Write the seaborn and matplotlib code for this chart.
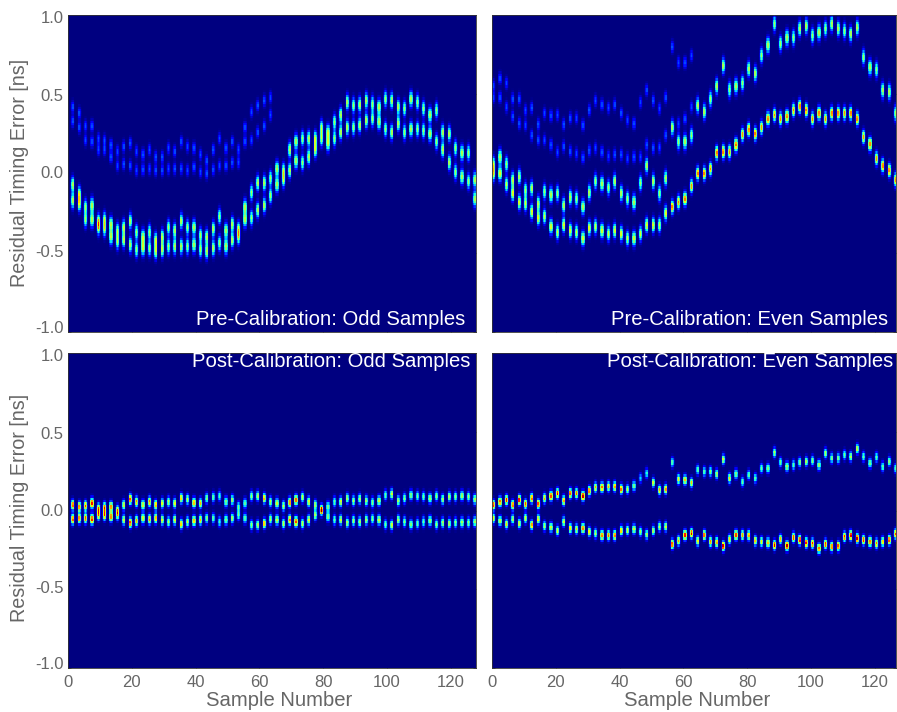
import numpy as np
import pandas as pd
import matplotlib
matplotlib.use("Agg")
import matplotlib.pyplot as plt
from matplotlib.transforms import ScaledTranslation
import seaborn as sns

# Peak positions [ns] per captured sample column
pre_odd_up = [-.07,-.13,-.21,-.20,-.30,-.29,-.32,-.36,-.34,-.30,-.37,-.40,-.37,-.42,-.40,-.34,-.36,-.30,-.34,-.34,-.39,-.40,-.35,-.27,-.36,-.32,-.35,-.21,-.12,-.06,-.06,-.03,
              .03,.02,.15,.20,.22,.22,.22,.29,.26,.325,.37,.45,.43,.435,.46,.44,.42,.47,.46,.42,.41,.47,.45,.41,.37,.40,.26,.25,.16,.13,.13,-.04]
pre_odd_low = [-.17,-.19,-.29,-.29,-.34,-.35,-.40,-.43,-.42,-.45,-.48,-.47,-.47,-.49,-.48,-.46,-.46,-.46,-.46,-.45,-.48,-.49,-.47,-.44,-.46,-.42,-.40,-.29,-.28,-.23,-.20,-.14,
               -.07,-.04,.02,.08,.07,.105,.15,.22,.19,.22,.26,.29,.29,.305,.335,.345,.325,.28,.26,.315,.26,.28,.28,.27,.25,.20,.15,.07,.01,-.02,-.05,-.16]
pre_odd_ghost_up = [.42,.38,.30,.30,.22,.21,.18,.14,.17,.19,.14,.12,.15,.105,.105,.16,.14,.20,.17,.16,.12,.08,.15,.22,.16,.20,.15,.29,.39,.43,.46,.48]
pre_odd_ghost_low = [.33,.29,.21,.20,.15,.15,.105,.05,.06,.05,.02,.025,.03,.02,.02,.03,.03,.03,.02,.04,.01,.0,.025,.05,.05,.07,.07,.20,.21,.26,.30,.37]

pre_even_up = [.06,.105,.06,-.04,-.02,-.105,-.095,-.19,-.115,-.135,-.125,-.20,-.15,-.16,-.21,-.12,-.05,-.065,-.09,-.05,-.125,-.16,-.18,-.06,.05,-.05,-.125,-.03,
               .29,.20,.20,.24,.43,.39,.47,.55,.68,.53,.55,.57,.66,.63,.745,.81,.945,.82,.857,.857,.914,.93,.87,.89,.914,.945,.914,.90,.88,.92,.735,.67,.655,.525,.515,.38]
pre_even_low_early = [0,0,-.07,-.125,-.18,-.19,-.24,-.28,-.27,-.335,-.37,-.325,-.36,-.37,-.41,-.345,-.335,-.36,-.38,-.36,-.38,-.41,-.41,-.38,-.325,-.325,-.325,-.25]
pre_even_low_late = [-.21,-.18,-.16,-.08,0,0,.03,.13,.137,.137,.18,.245,.277,.25,.29,.345,.37,.345,.36,.40,.424,.40,.345,.38,.345,.38,.38,.38,.38,.345,.23,.185,.095,.05,.02,-.04]
pre_even_ghost_up = [.555,.60,.57,.47,.47,.40,.415,.31,.38,.365,.37,.31,.35,.35,.305,.40,.46,.435,.415,.435,.38,.335,.315,.45,.525,.46,.41,.48,.80,.70,.70,.745]
pre_even_ghost_low = [.48,.48,.42,.36,.315,.305,.24,.21,.21,.18,.135,.17,.14,.125,.10,.145,.16,.135,.11,.12,.12,.095,.105,.105,.18,.16,.165,.24,np.nan,.315,.345,.42]

post_odd_up = [.035,.024,.029,.046,.014,.020,.024,.003,.035,.071,.056,.035,.056,.035,.046,.056,.046,.077,.071,.050,.046,.077,.084,.092,.056,.067,.024,.046,.092,.092,.077,.056,
               .046,.029,.052,.067,.084,.056,.035,.003,.024,.056,.056,.077,.062,.073,.062,.052,.062,.098,.105,.062,.077,.098,.092,.088,.077,.092,.071,.088,.088,.094,.088,.071]
post_odd_low = [-.056,-.050,-.050,-.056,-.029,-.029,-.039,-.029,-.060,-.077,-.065,-.050,-.056,-.050,-.060,-.071,-.060,-.086,-.071,-.065,-.060,-.050,-.050,-.071,-.060,-.050,-.029,-.050,-.092,-.092,-.082,-.056,
                -.060,-.082,-.060,-.071,-.082,-.060,-.029,.003,-.039,-.060,-.060,-.077,-.065,-.071,-.060,-.054,-.060,-.088,-.092,-.060,-.071,-.088,-.082,-.071,-.065,-.088,-.077,-.082,-.077,-.075,-.077,-.071]

post_even_up = [.035,.056,.067,.035,.067,.041,.077,.041,.077,.092,.109,.063,.109,.109,.092,.124,.147,.147,.152,.152,.135,.135,.156,.205,.236,.177,.130,.135,.306,.198,.194,.177,
                .258,.247,.247,.232,.325,.205,.232,.183,.226,.205,.268,.268,.368,.306,.279,.289,.306,.311,.317,.289,.364,.332,.332,.353,.342,.391,.342,.300,.338,.279,.311,.268]
post_even_low = [-.050,-.065,-.086,-.056,-.082,-.050,-.092,-.056,-.099,-.107,-.128,-.071,-.113,-.118,-.113,-.135,-.145,-.158,-.158,-.158,-.128,-.124,-.118,-.135,-.152,-.128,-.103,-.103,-.213,-.192,-.156,-.145,
                 -.194,-.156,-.198,-.202,-.226,-.183,-.156,-.156,-.158,-.192,-.198,-.205,-.219,-.183,-.224,-.171,-.188,-.205,-.209,-.241,-.213,-.230,-.226,-.166,-.158,-.177,-.188,-.198,-.209,-.198,-.188,-.149]

# Peak strengths, for the stretches whose colours differ
post_odd_strength = [.82,.78,.85,.9,.78,.85,.78,.62,.6,.85,.78,.62,.78,.72,.62,.6,.62,.68,.62,.72,.72,.5,.45,.45,.5,.55,.5,.45,.55,.55,.72,.6,
                     .6,.62,.78,.85,.62,.62,.55,.55,.5,.5,.6,.55,.6,.55,.55,.55,.6,.5,.6,.55,.55,.5,.5,.5,.55,.55,.55,.55,.55,.55,.55,.55]
post_even_up_strength = [.9,.8,.95,.8,.95,.85,.8,.85,.75,.85,.95,.75,.85,.85,.95,.8,.75,.8,.75,.75,.8,.6,.5,.35,.4,.6,.75,.75,.45,.7,.7,.7,
                         .45,.45,.55,.55,.6,.7,.5,.5,.45,.45,.5,.5,.6,.5,.55,.5,.5,.55,.55,.55,.6,.5,.5,.5,.55,.6,.5,.5,.5,.45,.5,.45]
post_even_low_strength = [.65,.6,.7,.55,.6,.65,.75,.65,.6,.6,.65,.6,.7,.7,.8,.65,.6,.8,.85,.8,.7,.65,.6,.55,.55,.55,.6,.6,
                          .85,.75,.95,.95,.65,.85,.8,.75,.95,.7,.9,.8,.75,.7,.7,.7,.95,.75,.95,.9,.9,.9,.9,.8,.9,.8,.85,.9,.95,.95,.9,.8,.8,.7,.85,.85]

titles = ["Pre-Calibration: Odd Samples", "Pre-Calibration: Even Samples",
          "Post-Calibration: Odd Samples", "Post-Calibration: Even Samples"]
y_ticks = [1.0, 0.5, 0.0, -0.5, -1.0]
y_tick_labels = ["1.0", "0.5", "0.0", "-0.5", "-1.0"]
x_ticks = [0, 20, 40, 60, 80, 100, 120]
x_label = "Sample Number"
y_label = "Residual Timing Error [ns]"

sns.set_theme(style="white")
plt.rcParams["font.family"] = ["Liberation Sans", "DejaVu Sans"]

N_BINS = 135
SUB = 4   # display cells per sample, so each stripe gets soft sides
edges = np.linspace(1, -1, N_BINS + 1)
centers = (edges[:-1] + edges[1:]) / 2
side_profile = {-1: .12, 0: .7, 1: 1.0, 2: 1.0, 3: .7, 4: .12}


def density(first_sample, bands):
    """Stack each read peak as a narrow blob in its sample column."""
    grid = np.zeros((N_BINS, 128 * SUB))
    for values, amp, sigma, start in bands:
        amps = np.broadcast_to(amp, (len(values),))
        for i, v in enumerate(values):
            if np.isnan(v):
                continue
            col = (first_sample + 2 * (i + start)) * SUB
            blob = amps[i] * np.exp(-0.5 * ((centers - v) / sigma) ** 2)
            for off, w in side_profile.items():
                if 0 <= col + off < grid.shape[1]:
                    grid[:, col + off] += w * blob
    return pd.DataFrame(grid, index=centers)


panels = [
    density(1, [(pre_odd_up, .56, .031, 0), (pre_odd_low, .56, .031, 0),
                (pre_odd_ghost_up, .20, .024, 0), (pre_odd_ghost_low, .20, .024, 0)]),
    density(0, [(pre_even_up, .56, .031, 0), (pre_even_low_early, .62, .030, 0),
                (pre_even_low_late, .78, .027, 28),
                (pre_even_ghost_up, .20, .024, 0), (pre_even_ghost_low, .20, .024, 0)]),
    density(1, [(post_odd_up, post_odd_strength, .021, 0), (post_odd_low, post_odd_strength, .021, 0)]),
    density(0, [(post_even_up, post_even_up_strength, .020, 0), (post_even_low, post_even_low_strength, .020, 0)]),
]

W, H = 897, 712
boxes = [(68, 15, 476, 332), (492, 15, 896, 332), (68, 353, 476, 668), (492, 353, 896, 668)]
title_pos = [(465, 319), (888, 319), (470, 361), (893, 361)]
xlabel_x = {2: 279, 3: 697}
ylabel_y = {0: 172.5, 2: 508}
label_dy = [-2, -1, 1, 2, 5]
grey = "#666666"

fig = plt.figure(figsize=(W / 100, H / 100), dpi=100, facecolor="white")
for k, (frame, box) in enumerate(zip(panels, boxes)):
    x0, y0, x1, y1 = box
    ax = fig.add_axes([x0 / W, 1 - y1 / H, (x1 - x0) / W, (y1 - y0) / H])
    sns.heatmap(frame, ax=ax, cmap="jet", vmin=0, vmax=1, cbar=False,
                xticklabels=False, yticklabels=False, linewidths=0, rasterized=True)
    ax.set_xlabel("")
    ax.set_ylabel("")
    ax.set_xlim(0, (x1 - x0) / 3.19 * SUB)
    ax.set_xticks([t * SUB for t in x_ticks])
    ax.set_yticks([(1 - t) / 2 * N_BINS for t in y_ticks])
    ax.tick_params(direction="in", length=2, width=0.6, color="#333333", top=True,
                   right=True, labelcolor=grey, labelsize=12, pad=3,
                   left=True, bottom=True)
    ax.tick_params(axis="x", pad=5)
    ax.set_xticklabels([str(t) for t in x_ticks] if k >= 2 else [])
    ax.set_yticklabels(y_tick_labels if k % 2 == 0 else [])
    if k % 2 == 0:
        for lbl, dy in zip(ax.get_yticklabels(), label_dy):
            lbl.set_transform(lbl.get_transform() +
                              ScaledTranslation(0, dy / 100, fig.dpi_scale_trans))
        fig.text(20 / W, 1 - ylabel_y[k] / H, y_label, rotation=90, color=grey,
                 fontsize=14.2, ha="center", va="center")
    if k >= 2:
        fig.text(xlabel_x[k] / W, 1 - 700 / H, x_label, color=grey, fontsize=14.6,
                 ha="center", va="center")
    for s in ax.spines.values():
        s.set_visible(True)
        s.set_linewidth(0.6)
        s.set_color("#333333")
    tx, ty = title_pos[k]
    fig.text(tx / W, 1 - ty / H, titles[k], color="white", fontsize=14.55,
             ha="right", va="center")

fig.savefig("out.png", dpi=100)
